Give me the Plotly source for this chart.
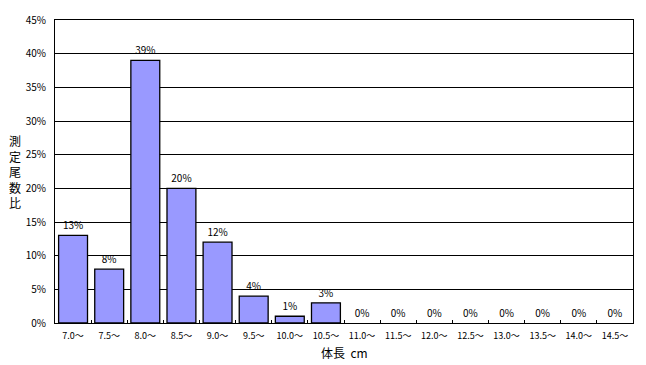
import plotly.graph_objects as go

categories = ["7.0～", "7.5～", "8.0～", "8.5～", "9.0～", "9.5～", "10.0～", "10.5～",
              "11.0～", "11.5～", "12.0～", "12.5～", "13.0～", "13.5～", "14.0～", "14.5～"]
values = [13, 8, 39, 20, 12, 4, 1, 3, 0, 0, 0, 0, 0, 0, 0, 0]
y_ticks = [0, 5, 10, 15, 20, 25, 30, 35, 40, 45]
y_title_chars = ["測", "定", "尾", "数", "比"]
x_title = "体長  cm"

FONT = "Noto Sans CJK JP"

fig = go.Figure()
fig.add_trace(go.Bar(
    x=categories, y=values,
    marker=dict(color="#9999FF",
                line=dict(color="black", width=[1.3 if v > 0 else 0 for v in values])),
    text=[f"{v}%" for v in values],
    textposition="outside",
    textfont=dict(family=FONT, size=10, color="black"),
    cliponaxis=False,
))

fig.update_layout(
    width=646, height=365,
    margin=dict(l=55, r=13, t=20, b=42),
    paper_bgcolor="white", plot_bgcolor="white",
    bargap=0.2,
    showlegend=False,
    font=dict(family=FONT, color="black"),
    xaxis=dict(
        type="category",
        showline=True, linecolor="black", linewidth=1, mirror=True,
        showgrid=False,
        tickson="boundaries", ticks="inside", ticklen=3, tickcolor="black", tickwidth=1,
        tickfont=dict(family=FONT, size=9, color="black"),
        ticklabelstandoff=4,
    ),
    yaxis=dict(
        range=[0, 45],
        tickvals=y_ticks,
        ticktext=[f"{t}%" for t in y_ticks],
        showline=True, linecolor="black", linewidth=1, mirror=True,
        showgrid=True, gridcolor="black", gridwidth=1,
        zeroline=False,
        ticks="", tickfont=dict(family=FONT, size=10, color="black"),
        ticklabelstandoff=6,
    ),
    annotations=[
        dict(text="<br>".join(y_title_chars), xref="paper", yref="paper",
             x=-0.07, y=0.5, xanchor="center", yanchor="middle",
             showarrow=False, font=dict(family=FONT, size=12, color="black")),
        dict(text=x_title, xref="paper", yref="paper",
             x=0.5, y=-0.064, xanchor="center", yanchor="top",
             showarrow=False, font=dict(family=FONT, size=12, color="black")),
    ],
)

fig.write_html("out.html")
